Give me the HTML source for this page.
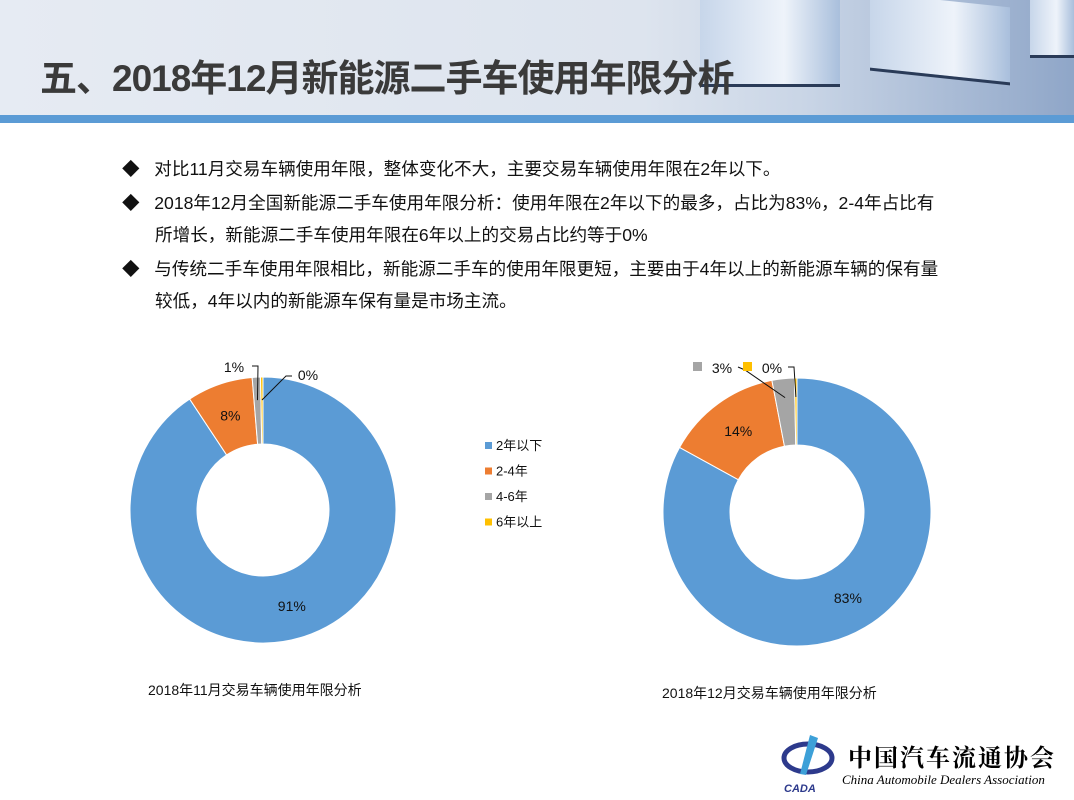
<!DOCTYPE html>
<html><head><meta charset="utf-8">
<style>
body{margin:0;width:1074px;height:800px;overflow:hidden;background:#fff;font-family:"Liberation Sans","Noto Sans CJK SC",sans-serif;position:relative}
.hdr{position:absolute;left:0;top:0;width:1074px;height:115px;background:linear-gradient(90deg,#e6ebf3 0%,#dde4ee 60%,#c9d5e6 75%,#8fa6c8 100%)}
.bar{position:absolute;left:0;top:115px;width:1074px;height:8px;background:#5b9bd5}
.box{position:absolute;background:linear-gradient(90deg,#c7d6ea,#eef3fa 60%,#a9bfdc);border-bottom:3px solid #2a3b58}
h1{position:absolute;left:40px;top:48px;margin:0;font-size:37px;font-weight:bold;color:#3a3a3a;letter-spacing:-1px;font-family:"Liberation Sans","Noto Sans CJK SC",sans-serif;white-space:nowrap}
.t{position:absolute;font-size:17.6px;color:#111;white-space:nowrap}
</style></head><body>
<div class="hdr"></div>
<div class="box" style="left:700px;top:0;width:140px;height:84px"></div>
<div class="box" style="left:870px;top:0;width:140px;height:75px;transform:skewY(6deg)"></div>
<div class="box" style="left:1030px;top:0;width:44px;height:55px"></div>
<div class="bar"></div>
<h1>五、2018年12月新能源二手车使用年限分析</h1>
<div class="t" style="left:122px;top:156px">◆&nbsp;&nbsp;&nbsp;对比11月交易车辆使用年限，整体变化不大，主要交易车辆使用年限在2年以下。</div>
<div class="t" style="left:122px;top:190px">◆&nbsp;&nbsp;&nbsp;2018年12月全国新能源二手车使用年限分析：使用年限在2年以下的最多，占比为83%，2-4年占比有</div>
<div class="t" style="left:155px;top:222px">所增长，新能源二手车使用年限在6年以上的交易占比约等于0%</div>
<div class="t" style="left:122px;top:256px">◆&nbsp;&nbsp;&nbsp;与传统二手车使用年限相比，新能源二手车的使用年限更短，主要由于4年以上的新能源车辆的保有量</div>
<div class="t" style="left:155px;top:288px">较低，4年以内的新能源车保有量是市场主流。</div>
<svg id="ch" width="1074" height="800" style="position:absolute;left:0;top:0"></svg>
<div class="t" style="left:148px;top:680px;font-size:14px">2018年11月交易车辆使用年限分析</div>
<div class="t" style="left:662px;top:683px;font-size:14px">2018年12月交易车辆使用年限分析</div>
<div style="position:absolute;left:780px;top:730px;width:290px;height:65px">
<svg width="60" height="65" style="position:absolute;left:0;top:0"><ellipse cx="28" cy="28" rx="24" ry="14" fill="none" stroke="#2d3a8c" stroke-width="5"/><path d="M30 5 L38 8 L26 45 L20 44Z" fill="#3da0d8"/><text x="4" y="62" font-size="11" font-weight="bold" font-style="italic" fill="#2d3a8c">CADA</text></svg>
<div style="position:absolute;left:68px;top:8px;font-size:24px;font-weight:bold;font-family:'Noto Serif CJK SC',serif;letter-spacing:2px">中国汽车流通协会</div>
<div style="position:absolute;left:62px;top:42px;font-size:13px;font-style:italic;font-family:'Liberation Serif',serif;white-space:nowrap">China Automobile Dealers Association</div>
</div>
<script>
const categories=["2年以下","2-4年","4-6年","6年以上"];
const novValues=[90.7,8.0,1.0,0.3];
const decValues=[83.0,14.0,2.7,0.3];
const novLabels=["91%","8%","1%","0%"];
const decLabels=["83%","14%","3%","0%"];
const colors=["#5b9bd5","#ed7d31","#a5a5a5","#ffc000"];
const svg=document.getElementById('ch');
const NS="http://www.w3.org/2000/svg";
function mk(t,a){const e=document.createElementNS(NS,t);for(const k in a)e.setAttribute(k,a[k]);svg.appendChild(e);return e;}
function pt(cx,cy,r,a){return [cx+r*Math.sin(a),cy-r*Math.cos(a)];}
function donut(cx,cy,R,r,vals,labels,name){
  const tot=vals.reduce((s,v)=>s+v,0);let a0=0;const mids=[];
  vals.forEach((v,i)=>{
    const a1=a0+v/tot*2*Math.PI;const lg=(a1-a0)>Math.PI?1:0;
    const p1=pt(cx,cy,R,a0),p2=pt(cx,cy,R,a1),p3=pt(cx,cy,r,a1),p4=pt(cx,cy,r,a0);
    const e=mk('path',{d:`M${p1}A${R},${R} 0 ${lg} 1 ${p2}L${p3}A${r},${r} 0 ${lg} 0 ${p4}Z`,fill:colors[i],stroke:'#fff','stroke-width':1});
    
    
    mids.push((a0+a1)/2);a0=a1;
  });
  return mids;
}
function lbl(x,y,s,name){const t=mk('text',{x:x,y:y,'font-size':14,'text-anchor':'middle',fill:'#111'});t.textContent=s;

}
let m=donut(263,510,133,66,novValues,'nov');
let p=pt(263,510,100,m[0]);lbl(p[0],p[1]+5,novLabels[0],'nov-label-0');
p=pt(263,510,100,m[1]);lbl(p[0],p[1]+5,novLabels[1],'nov-label-1');
p=pt(263,510,110,m[2]);mk('polyline',{points:`${p} 258,366 252,366`,fill:'none',stroke:'#111'});lbl(234,372,novLabels[2],'nov-label-2');
p=pt(263,510,110,m[3]);mk('polyline',{points:`${p} 286,376 292,376`,fill:'none',stroke:'#111'});lbl(308,380,novLabels[3],'nov-label-3');
m=donut(797,512,134,67,decValues,'dec');
p=pt(797,512,100,m[0]);lbl(p[0],p[1]+5,decLabels[0],'dec-label-0');
p=pt(797,512,100,m[1]);lbl(p[0],p[1]+5,decLabels[1],'dec-label-1');
p=pt(797,512,115,m[2]);mk('polyline',{points:`${p} 745,370 738,367`,fill:'none',stroke:'#111'});
mk('rect',{x:693,y:362,width:9,height:9,fill:colors[2]});lbl(722,373,decLabels[2],'dec-label-2');
p=pt(797,512,115,m[3]);mk('polyline',{points:`${p} 794,367 788,367`,fill:'none',stroke:'#111'});
mk('rect',{x:743,y:362,width:9,height:9,fill:colors[3]});lbl(772,373,decLabels[3],'dec-label-3');
categories.forEach((c,i)=>{
  const y=446+i*25.5;
  const r=mk('rect',{x:485,y:y-4,width:7,height:7,fill:colors[i]});
  
  
  const t=mk('text',{x:496,y:y+4,'font-size':13,fill:'#111'});t.textContent=c;
  
  
});
</script>
</body></html>
